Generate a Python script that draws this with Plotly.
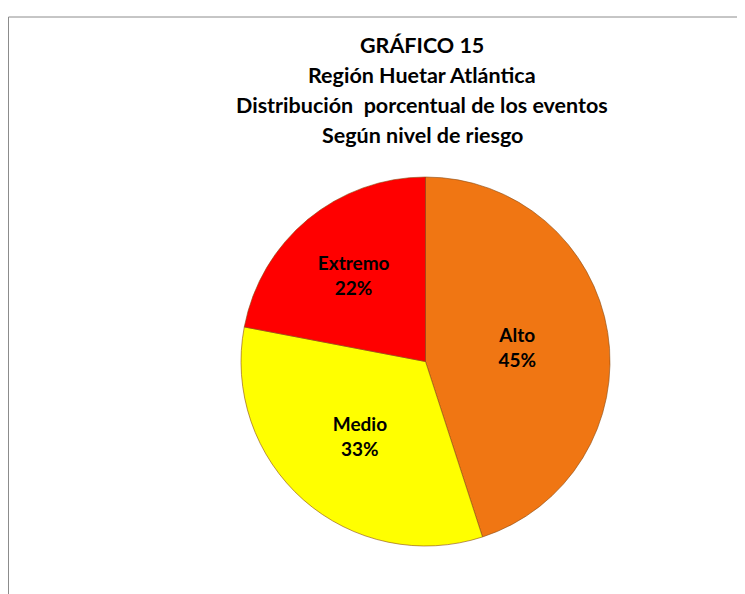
import plotly.graph_objects as go

labels = ["Alto", "Medio", "Extremo"]
values = [45, 33, 22]
colors = ["#F07613", "#FFFF00", "#FF0000"]
title_lines = ["GRÁFICO 15", "Región Huetar Atlántica",
               "Distribución  porcentual de los eventos", "Según nivel de riesgo"]

W, H = 745, 594
OFF = 8  # page body margin
FONT = "Lato, 'Open Sans', sans-serif"


def px(x):
    return (x - OFF) / W


def py(y):
    return 1 - (y - OFF) / H


fig = go.Figure(go.Pie(
    labels=labels, values=values, sort=False, direction="clockwise", rotation=0,
    marker=dict(colors=colors, line=dict(color="#8a4a10", width=0.6)),
    textinfo="label+percent", texttemplate="%{label}<br>%{percent:.0%}",
    textposition="inside", insidetextorientation="horizontal",
    textfont=dict(family=FONT, size=19, color="black", weight="bold"),
    domain=dict(x=[px(241), px(610)], y=[py(546), py(177)]),
    showlegend=False, hoverinfo="label+percent",
))

ys = [45, 75, 105, 135]
for t, y in zip(title_lines, ys):
    fig.add_annotation(text=f"<b>{t}</b>", x=px(422), y=py(y), xref="paper", yref="paper",
                       showarrow=False, xanchor="center", yanchor="middle",
                       font=dict(family=FONT, size=21.5, color="black"))

fig.add_shape(type="line", xref="paper", yref="paper", x0=px(8.5), x1=px(8.5), y0=-0.05, y1=py(17),
              line=dict(color="#8c8c8c", width=1))
fig.add_shape(type="line", xref="paper", yref="paper", x0=px(8.5), x1=1.05, y0=py(17), y1=py(17),
              line=dict(color="#8c8c8c", width=1))

fig.update_layout(width=W, height=H, margin=dict(l=0, r=0, t=0, b=0),
                  paper_bgcolor="white", plot_bgcolor="white")
fig.write_html("out.html")
